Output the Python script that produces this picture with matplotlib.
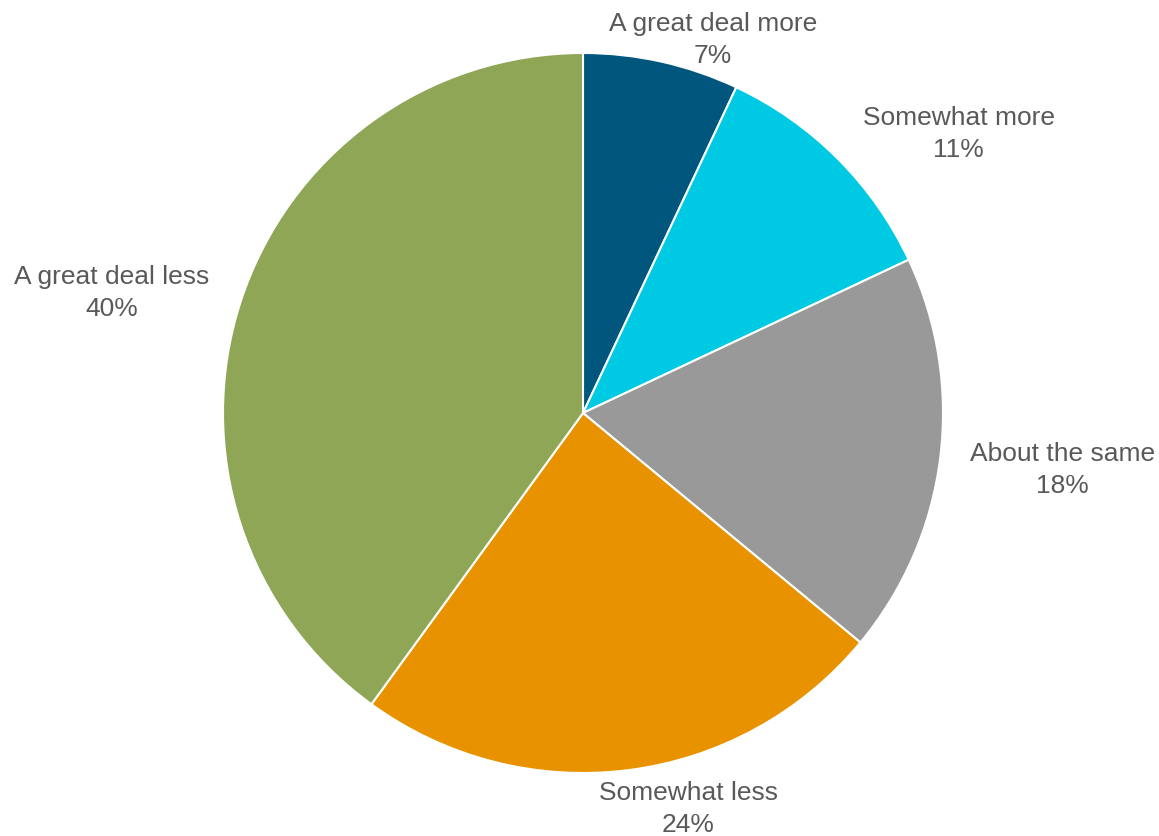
import matplotlib
matplotlib.use("Agg")
import matplotlib.pyplot as plt

categories = ["A great deal more", "Somewhat more", "About the same", "Somewhat less", "A great deal less"]
values = [7, 11, 18, 24, 40]
colors = ["#00567D", "#00C9E3", "#999999", "#E89200", "#8FA656"]
# label positions in units of pie radius
label_pos = [(0.361, 1.036), (1.044, 0.775), (1.331, -0.158), (0.292, -1.100), (-1.308, 0.334)]

plt.rcParams['font.family'] = ['Liberation Sans', 'DejaVu Sans']
fig = plt.figure(figsize=(11.59, 8.36), dpi=100)
cx, cy, r = 583, 413, 360
W, H = 1159, 836
ax = fig.add_axes([(cx - r) / W, 1 - (cy + r) / H, 2 * r / W, 2 * r / H])
ax.pie(values, colors=colors, startangle=90, counterclock=False, radius=1,
       wedgeprops=dict(edgecolor="white", linewidth=1.5))
ax.set_xlim(-1, 1)
ax.set_ylim(-1, 1)
ax.set_aspect("equal")
for cat, v, (x, y) in zip(categories, values, label_pos):
    ax.text(x, y, f"{cat}\n{v}%", ha="center", va="center", fontsize=19,
            color="#595959", linespacing=1.4, clip_on=False)
ax.axis("off")
fig.savefig("out.png", dpi=100)
